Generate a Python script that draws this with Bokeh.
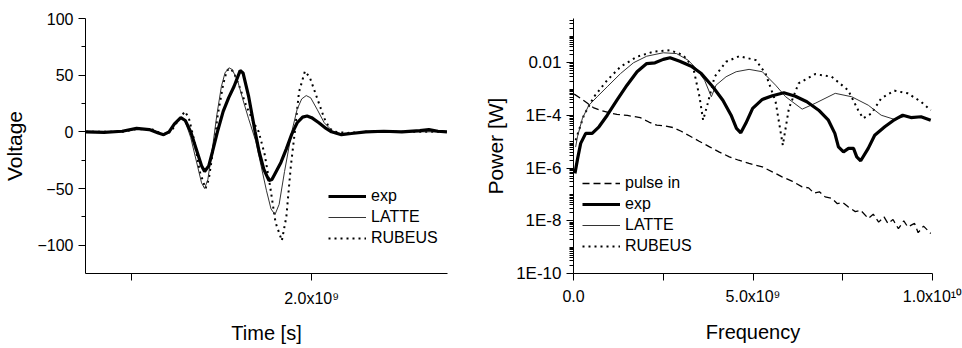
from bokeh.plotting import figure
from bokeh.layouts import row
from bokeh.models import FixedTicker, Legend, LegendItem, CustomJSTickFormatter, Range1d
from bokeh.embed import file_html
from bokeh.resources import INLINE

FONT = "Liberation Sans"

# ---------------- Left panel: Voltage vs time (time in units of 1e-9 s) ----------------
exp_time_voltage = [
    (0.75, 0), (0.85, -0.5), (0.95, 0.5), (1.03, 3), (1.10, 2), (1.15, -1), (1.18, -2.5),
    (1.21, 0), (1.24, 7), (1.275, 12.5), (1.30, 10), (1.33, 0), (1.36, -15), (1.39, -30),
    (1.407, -35), (1.43, -30), (1.45, -18), (1.478, 0), (1.51, 18), (1.54, 30), (1.57, 40),
    (1.604, 54), (1.62, 52), (1.65, 32), (1.687, 0), (1.71, -18), (1.735, -33), (1.764, -43),
    (1.78, -42), (1.80, -36), (1.83, -27), (1.86, -15), (1.89, -2), (1.92, 8), (1.95, 13),
    (1.975, 14), (2.00, 12.5), (2.04, 8), (2.08, 3), (2.11, 0), (2.165, -2.5), (2.22, -1.5),
    (2.30, 0), (2.40, 0.5), (2.50, 0), (2.60, 1), (2.65, 2), (2.70, 0.5), (2.75, 0),
]
latte_time_voltage = [
    (0.75, 0), (0.95, 0), (1.03, 2.5), (1.12, 2), (1.17, -2), (1.21, 0), (1.25, 8),
    (1.275, 13), (1.30, 9), (1.33, -5), (1.36, -25), (1.39, -45), (1.407, -50), (1.425, -42),
    (1.45, -15), (1.475, 15), (1.50, 40), (1.52, 52), (1.542, 56.5), (1.56, 55), (1.59, 45),
    (1.62, 28), (1.65, 12), (1.69, -8), (1.72, -30), (1.75, -52), (1.775, -68), (1.797, -73),
    (1.82, -64), (1.85, -35), (1.89, 0), (1.92, 20), (1.945, 29), (1.97, 32), (1.995, 30),
    (2.03, 20), (2.07, 8), (2.12, 0), (2.16, -1.5), (2.22, -1), (2.30, 0), (2.75, 0),
]
rubeus_time_voltage = [
    (0.75, 0), (0.95, 0), (1.03, 2.5), (1.12, 2), (1.18, -2.5), (1.22, 0), (1.26, 10),
    (1.298, 18), (1.32, 12), (1.35, -8), (1.38, -35), (1.412, -50), (1.43, -42), (1.455, -15),
    (1.48, 15), (1.51, 42), (1.53, 54), (1.549, 56), (1.57, 52), (1.60, 40), (1.64, 22),
    (1.68, 8), (1.707, 0), (1.74, -20), (1.77, -48), (1.80, -80), (1.835, -96), (1.86, -75),
    (1.885, -30), (1.907, 0), (1.93, 35), (1.963, 53.5), (1.99, 48), (2.03, 30), (2.07, 12),
    (2.10, 3), (2.13, 0), (2.20, -1), (2.30, 0), (2.75, 0),
]
left_y_ticks = [-100, -50, 0, 50, 100]
left_x_tick_labels = {2: "2.0x10\u2079"}

# ---------------- Right panel: Power vs frequency (freq in units of 1e9 Hz, log10 power) ----------------
pulse_freq_log10power = [
    (0.02, -3.19), (0.2, -3.35), (0.39, -3.54), (0.55, -3.70), (0.75, -3.80), (1.0, -3.90),
    (1.21, -3.96), (1.5, -4.00), (1.86, -4.08), (2.1, -4.25), (2.32, -4.37), (2.55, -4.40),
    (2.78, -4.46), (3.0, -4.60), (3.24, -4.78), (3.5, -4.98), (3.79, -5.19), (4.05, -5.38),
    (4.34, -5.57), (4.6, -5.70), (4.89, -5.82), (5.26, -5.95), (5.55, -6.15), (5.81, -6.33),
    (6.1, -6.50), (6.37, -6.71), (6.55, -6.75), (6.7, -6.95), (6.85, -6.90), (7.01, -7.09),
    (7.2, -7.15), (7.35, -7.35), (7.5, -7.30), (7.65, -7.47), (7.85, -7.65), (8.0, -7.60),
    (8.21, -7.91), (8.35, -7.75), (8.5, -8.05), (8.65, -7.85), (8.76, -8.10), (8.9, -7.95),
    (9.05, -8.30), (9.2, -8.00), (9.31, -8.23), (9.5, -8.10), (9.6, -8.45), (9.75, -8.20),
    (9.95, -8.48),
]
exp_freq_log10power = [
    (0.04, -6.2), (0.12, -5.6), (0.2, -5.06), (0.34, -4.68), (0.52, -4.68), (0.71, -4.43),
    (0.94, -3.99), (1.21, -3.42), (1.49, -2.85), (1.77, -2.34), (2.04, -2.03), (2.27, -2.0),
    (2.50, -1.87), (2.69, -1.81), (2.96, -1.94), (3.28, -2.13), (3.56, -2.41), (3.88, -2.91),
    (4.16, -3.42), (4.39, -3.99), (4.54, -4.49), (4.66, -4.66), (4.80, -4.30), (4.99, -3.73),
    (5.26, -3.39), (5.54, -3.25), (5.86, -3.14), (6.18, -3.27), (6.50, -3.48), (6.83, -3.80),
    (7.10, -4.18), (7.28, -4.68), (7.38, -5.19), (7.52, -5.38), (7.66, -5.25), (7.80, -5.25),
    (7.89, -5.57), (8.00, -5.72), (8.21, -5.25), (8.39, -4.75), (8.67, -4.43), (8.90, -4.20),
    (9.17, -3.99), (9.40, -4.08), (9.68, -4.05), (9.95, -4.18),
]
latte_freq_log10power = [
    (0.06, -5.2), (0.11, -4.81), (0.25, -4.1), (0.43, -3.61), (0.66, -3.29), (0.94, -2.91),
    (1.31, -2.41), (1.67, -2.0), (2.04, -1.75), (2.50, -1.62), (2.87, -1.65), (3.19, -1.90),
    (3.42, -2.22), (3.65, -2.66), (3.84, -3.29), (3.97, -2.85), (4.25, -2.53), (4.53, -2.34),
    (4.89, -2.25), (5.26, -2.34), (5.63, -2.85), (5.91, -3.29), (6.37, -3.76), (6.73, -3.54),
    (7.29, -3.16), (7.75, -3.29), (8.21, -3.61), (8.57, -3.99), (8.94, -4.15), (9.2, -4.05),
]
rubeus_freq_log10power = [
    (0.06, -4.94), (0.29, -3.99), (0.57, -3.29), (0.94, -2.66), (1.31, -2.15), (1.77, -1.77),
    (2.23, -1.58), (2.69, -1.52), (3.05, -1.71), (3.33, -2.15), (3.51, -3.29), (3.61, -4.18),
    (3.74, -3.54), (3.93, -2.53), (4.25, -1.96), (4.62, -1.75), (5.08, -1.90), (5.35, -2.41),
    (5.63, -3.48), (5.83, -5.13), (6.0, -3.73), (6.27, -2.78), (6.73, -2.43), (7.19, -2.53),
    (7.65, -3.04), (7.93, -3.80), (8.07, -4.11), (8.30, -3.92), (8.57, -3.35), (8.94, -3.06),
    (9.31, -3.16), (9.68, -3.48), (9.95, -3.80),
]
right_y_ticks = [1e-10, 1e-8, 1e-6, 1e-4, 1e-2]
right_x_tick_labels = {0: "0.0", 5: "5.0x10\u2079", 10: "1.0x10\u00b9\u2070"}


def xs(points):
    return [p[0] for p in points]


def ys(points):
    return [p[1] for p in points]


def pw(points):
    return [10 ** p[1] for p in points]


def style_axes(p):
    for ax in (p.xaxis[0], p.yaxis[0]):
        ax.axis_line_color = "black"
        ax.axis_line_width = 1
        ax.major_tick_line_color = "black"
        ax.minor_tick_line_color = "black"
        ax.major_tick_in = 0
        ax.major_tick_out = 7
        ax.minor_tick_in = 0
        ax.minor_tick_out = 4
        ax.major_label_text_font = FONT
        ax.major_label_text_font_size = "16px"
        ax.major_label_text_color = "black"
        ax.axis_label_text_font = FONT
        ax.axis_label_text_font_size = "20px"
        ax.axis_label_text_font_style = "normal"
        ax.axis_label_text_color = "black"
    p.xgrid.visible = False
    p.ygrid.visible = False
    p.outline_line_color = None
    p.background_fill_color = "white"
    p.border_fill_color = "white"


# ---- left figure
p1 = figure(width=481, height=348, output_backend="svg", toolbar_location=None,
            x_range=Range1d(0.747, 2.753), y_range=Range1d(-125, 100),
            min_border_left=82, min_border_right=34, min_border_top=18, min_border_bottom=75)
style_axes(p1)
p1.xaxis.ticker = FixedTicker(ticks=[2], minor_ticks=[1])
p1.xaxis.minor_tick_out = 7
p1.xaxis.major_label_overrides = left_x_tick_labels
p1.xaxis.axis_label = "Time [s]"
p1.yaxis.ticker = FixedTicker(ticks=left_y_ticks, minor_ticks=[-75, -25, 25, 75])
p1.yaxis.axis_label = "Voltage"
p1.yaxis.axis_label_text_font_size = "21px"
p1.xaxis.major_label_standoff = 9
p1.xaxis.axis_label_standoff = 12
p1.yaxis.major_label_standoff = 5
p1.yaxis.axis_label_standoff = 8

r_rub1 = p1.line(xs(rubeus_time_voltage), ys(rubeus_time_voltage), line_color="black",
                 line_width=2, line_dash="2 4")
r_lat1 = p1.line(xs(latte_time_voltage), ys(latte_time_voltage), line_color="#333333",
                 line_width=1)
r_exp1 = p1.line(xs(exp_time_voltage), ys(exp_time_voltage), line_color="black",
                 line_width=3.2)

leg1 = Legend(items=[LegendItem(label="exp", renderers=[r_exp1]),
                     LegendItem(label="LATTE", renderers=[r_lat1]),
                     LegendItem(label="RUBEUS", renderers=[r_rub1])],
              location=(243, 25))

# ---- right figure
p2 = figure(width=481, height=348, output_backend="svg", toolbar_location=None,
            y_axis_type="log",
            x_range=Range1d(0, 10), y_range=Range1d(1e-10, 0.48),
            min_border_left=88, min_border_right=30, min_border_top=18, min_border_bottom=75)
style_axes(p2)
p2.xaxis.ticker = FixedTicker(ticks=[0, 5, 10], minor_ticks=[2.5, 7.5])
p2.xaxis.minor_tick_out = 7
p2.xaxis.major_label_overrides = right_x_tick_labels
p2.xaxis.axis_label = "Frequency"
minor_log = [k * 10.0 ** e for e in range(-10, 0) for k in range(1, 10)
             if not (k == 1 and e % 2 == 0)]
p2.yaxis.ticker = FixedTicker(ticks=right_y_ticks, minor_ticks=minor_log)
p2.yaxis.formatter = CustomJSTickFormatter(code="""
    if (tick > 0.005) { return "0.01"; }
    return "1E" + Math.round(Math.log10(tick));
""")
p2.yaxis.axis_label = "Power [W]"
p2.yaxis.major_label_text_font_size = "17px"
p2.yaxis.axis_label_text_font_size = "21px"
p2.xaxis.major_label_standoff = 7
p2.xaxis.axis_label_standoff = 13
p2.yaxis.major_label_standoff = 5
p2.yaxis.axis_label_standoff = 6

r_pulse = p2.line(xs(pulse_freq_log10power), pw(pulse_freq_log10power), line_color="black",
                  line_width=1.3, line_dash="7 4")
r_rub2 = p2.line(xs(rubeus_freq_log10power), pw(rubeus_freq_log10power), line_color="black",
                 line_width=2, line_dash="2 4")
r_lat2 = p2.line(xs(latte_freq_log10power), pw(latte_freq_log10power), line_color="#333333",
                 line_width=1)
r_exp2 = p2.line(xs(exp_freq_log10power), pw(exp_freq_log10power), line_color="black",
                 line_width=3.2)

leg2 = Legend(items=[LegendItem(label="pulse in", renderers=[r_pulse]),
                     LegendItem(label="exp", renderers=[r_exp2]),
                     LegendItem(label="LATTE", renderers=[r_lat2]),
                     LegendItem(label="RUBEUS", renderers=[r_rub2])],
              location=(9, 17))

for lg in (leg1, leg2):
    lg.label_text_font = FONT
    lg.label_text_font_size = "16px"
    lg.label_text_color = "black"
    lg.border_line_color = None
    lg.background_fill_alpha = 0
    lg.glyph_width = 38
    lg.glyph_height = 20
    lg.label_height = 20
    lg.spacing = 1
    lg.padding = 0
    lg.margin = 0
    lg.label_standoff = 5

p1.add_layout(leg1)
p2.add_layout(leg2)

layout = row(p1, p2)
open("out.html", "w").write(file_html(layout, INLINE))
